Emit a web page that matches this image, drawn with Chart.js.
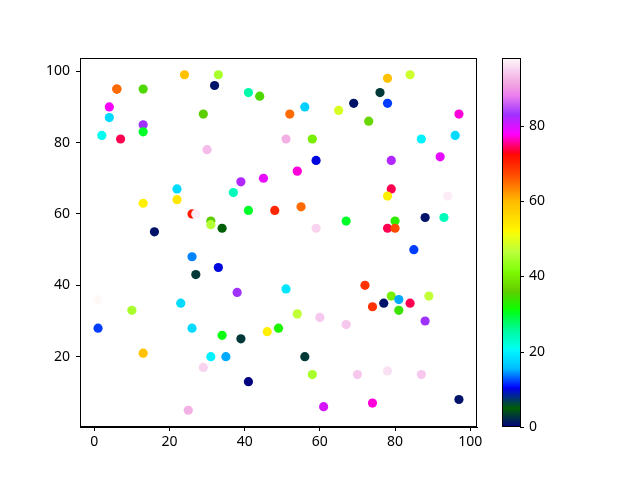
<!DOCTYPE html>
<html lang="en">
  <head>
    <meta charset="UTF-8" />
    <script src="https://cdn.jsdelivr.net/npm/chart.js@4/dist/chart.umd.min.js"></script>
    <title>Scatter</title>
    <style>
      body { margin: 0; background: #fff; }
    </style>
  </head>
  <body>
    <canvas id="myChart" width="640" height="480"></canvas>

    <script>
      // point data
      const xs = [6, 6, 13, 24, 33, 32, 4, 4, 2, 7, 13, 13, 29, 30, 41, 44, 52, 56, 65, 51, 58, 59, 54, 45, 39,
        78, 84, 76, 69, 78, 73, 97, 87, 96, 79, 92, 79, 22, 22, 13, 26, 27, 31, 31, 16, 26, 33, 27, 1, 23,
        37, 41, 48, 55, 34, 59, 67, 38, 51, 78, 94, 80, 88, 93, 78, 80, 85, 72, 79, 89, 77, 81, 84, 74, 81,
        88, 67, 70, 78, 87, 74, 97, 54, 60, 46, 49, 34, 39, 31, 35, 29, 56, 58, 41, 61, 10, 1, 26, 13, 25];
      const ys = [95, 95, 95, 99, 99, 96, 90, 87, 82, 81, 85, 83, 88, 78, 94, 93, 88, 90, 89, 81, 81, 75, 72, 70, 69,
        98, 99, 94, 91, 91, 86, 88, 81, 82, 75, 76, 67, 67, 64, 63, 60, 60, 58, 57, 55, 48, 45, 43, 36, 35,
        66, 61, 61, 62, 56, 56, 58, 38, 39, 65, 65, 58, 59, 59, 56, 56, 50, 40, 37, 37, 35, 36, 35, 34, 33,
        30, 29, 15, 16, 15, 7, 8, 32, 31, 27, 28, 26, 25, 20, 20, 17, 20, 15, 13, 6, 33, 28, 28, 21, 5];
      const cs = [66, 65, 35, 59, 45, 1, 78, 18, 21, 74, 83, 30, 36, 93, 25, 35, 65, 17, 49, 92, 40, 10, 77, 79, 82,
        59, 48, 3, 1, 12, 37, 77, 20, 18, 82, 79, 74, 18, 54, 53, 71, 97, 36, 46, 1, 14, 10, 3, 98, 18,
        24, 30, 70, 65, 5, 95, 30, 83, 19, 53, 97, 33, 1, 24, 74, 67, 12, 69, 40, 47, 1, 15, 74, 69, 34,
        83, 94, 94, 96, 94, 77, 1, 47, 94, 53, 32, 31, 3, 20, 15, 95, 3, 45, 0, 80, 45, 12, 18, 59, 92];

      const xTicks = [0, 20, 40, 60, 80, 100];
      const yTicks = [20, 40, 60, 80, 100];
      const cbTicks = [0, 20, 40, 60, 80];

      const cMin = Math.min(...cs);
      const cMax = Math.max(...cs);

      // gist_ncar colormap segments
      const ncarR = [[0, 0], [0.3098, 0], [0.3725, 0.3993], [0.4235, 0.5003], [0.5333, 1], [0.7922, 1],
        [0.8471, 0.6218], [0.898, 0.9235], [1, 0.9961]];
      const ncarG = [[0, 0], [0.051, 0.3722], [0.1059, 0], [0.1569, 0.7202], [0.1608, 0.7537], [0.1647, 0.7752],
        [0.2157, 1], [0.2588, 0.9804], [0.2706, 0.9804], [0.3176, 1], [0.3686, 0.8081], [0.4275, 1],
        [0.5216, 1], [0.6118, 0.7292], [0.6863, 0.2796], [0.7451, 0], [0.7922, 0], [0.8431, 0.1753],
        [0.898, 0.5], [1, 0.9725]];
      const ncarB = [[0, 0.502], [0.051, 0.0222], [0.1098, 1], [0.2039, 1], [0.2627, 0.6145], [0.3216, 0],
        [0.4157, 0], [0.4745, 0.2342], [0.5333, 0], [0.7373, 0], [0.7922, 0.9738], [0.8, 1], [0.8431, 1],
        [0.898, 0.9341], [0.9294, 0.8814], [0.9647, 0.9379], [1, 0.9699]];

      function seg(tab, t) {
        for (let i = 1; i < tab.length; i++) {
          if (t <= tab[i][0]) {
            const a = tab[i - 1], b = tab[i];
            return a[1] + (b[1] - a[1]) * (t - a[0]) / (b[0] - a[0]);
          }
        }
        return tab[tab.length - 1][1];
      }

      function cmap(v) {
        let t = (v - cMin) / (cMax - cMin);
        t = Math.max(0, Math.min(1, t));
        const r = Math.round(seg(ncarR, t) * 255);
        const g = Math.round(seg(ncarG, t) * 255);
        const b = Math.round(seg(ncarB, t) * 255);
        return "rgb(" + r + "," + g + "," + b + ")";
      }

      // frame + colorbar
      const extras = {
        id: "extras",
        afterDraw(chart) {
          const ctx = chart.ctx;
          const a = chart.chartArea;
          const cb = chart.scales.cb;
          ctx.save();
          ctx.strokeStyle = "#000";
          ctx.lineWidth = 1;
          ctx.strokeRect(a.left + 0.5, a.top + 0.5, a.right - a.left - 1, a.bottom - a.top - 1);

          const x0 = a.right + 25, w = 18;
          for (let py = Math.floor(cb.top); py < cb.bottom; py++) {
            ctx.fillStyle = cmap(cb.getValueForPixel(py + 0.5));
            ctx.fillRect(x0, py, w, 1);
          }
          ctx.strokeRect(x0 + 0.5, cb.top + 0.5, w, cb.bottom - cb.top - 1);
          ctx.beginPath();
          cbTicks.forEach(function (v) {
            const py = Math.round(cb.getPixelForValue(v)) + 0.5;
            ctx.moveTo(x0 + w, py);
            ctx.lineTo(x0 + w + 4, py);
          });
          ctx.stroke();
          ctx.restore();
        },
      };

      Chart.defaults.font.family = "'Noto Sans', 'DejaVu Sans', sans-serif";
      Chart.defaults.font.size = 14;
      Chart.defaults.color = "#000";

      const axisGrid = { drawOnChartArea: false, color: "#000", tickLength: 4 };
      // keep the tick label padding from shrinking the plot area
      function noPad(s) { s.paddingTop = 0; s.paddingBottom = 0; }

      new Chart("myChart", {
        type: "scatter",
        data: {
          datasets: [
            {
              data: xs.map(function (x, i) { return { x: x, y: ys[i] }; }),
              pointBackgroundColor: cs.map(cmap),
              pointBorderWidth: 0,
              pointRadius: 4.6,
              pointHoverRadius: 4.6,
            },
          ],
        },
        options: {
          responsive: false,
          animation: false,
          layout: { padding: { top: 58, left: 0, right: 0, bottom: 0 } },
          plugins: { legend: { display: false }, tooltip: { enabled: false } },
          scales: {
            x: {
              type: "linear",
              min: -3.8,
              max: 101.8,
              grid: axisGrid,
              border: { color: "#000" },
              ticks: { color: "#000", padding: 3, maxRotation: 0 },
              afterBuildTicks: function (s) { s.ticks = xTicks.map(function (v) { return { value: v }; }); },
              afterFit: function (s) { s.height = 53; s.paddingLeft = 0; s.paddingRight = 0; },
            },
            y: {
              type: "linear",
              min: 0.3,
              max: 103.7,
              grid: axisGrid,
              border: { color: "#000" },
              ticks: { color: "#000", padding: 6 },
              afterBuildTicks: function (s) { s.ticks = yTicks.map(function (v) { return { value: v }; }); },
              afterFit: function (s) { s.width = 80; noPad(s); },
            },
            cb: {
              type: "linear",
              position: "right",
              min: cMin,
              max: cMax,
              grid: { display: false, drawTicks: false },
              border: { display: false },
              ticks: { color: "#000", padding: 52 },
              afterBuildTicks: function (s) { s.ticks = cbTicks.map(function (v) { return { value: v }; }); },
              afterFit: function (s) { s.width = 163; noPad(s); },
            },
          },
        },
        plugins: [extras],
      });
    </script>
  </body>
</html>
